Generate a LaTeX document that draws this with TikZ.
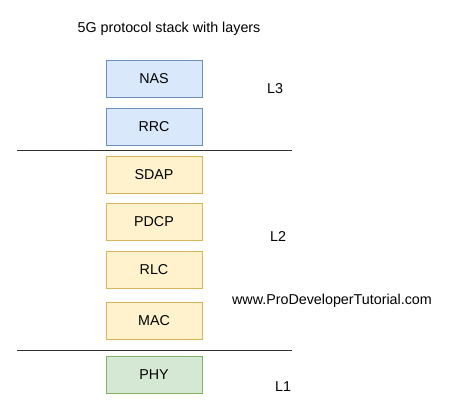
\documentclass[tikz,border=0pt]{standalone}
\usepackage{fontspec}
\setmainfont{Liberation Sans}
\definecolor{bfill}{HTML}{DAE8FC}\definecolor{bdraw}{HTML}{6C8EBF}
\definecolor{yfill}{HTML}{FFF2CC}\definecolor{ydraw}{HTML}{D6B656}
\definecolor{gfill}{HTML}{D5E8D4}\definecolor{gdraw}{HTML}{82B366}
\begin{document}
\begin{tikzpicture}[x=1pt,y=-1pt,
  layerbox/.style={draw, line width=1pt, minimum width=96pt, minimum height=37pt, inner sep=0pt, font=\fontsize{14.3}{16}\selectfont},
  blue/.style={layerbox, fill=bfill, draw=bdraw},
  yel/.style={layerbox, fill=yfill, draw=ydraw},
  grn/.style={layerbox, fill=gfill, draw=gdraw},
  lbl/.style={font=\fontsize{14.3}{16}\selectfont, inner sep=0pt},
  sep/.style={draw=black!80, line width=1pt}]
\useasboundingbox (0,0) rectangle (458,415);
\node[lbl] (title) at (169,29) {5G protocol stack with layers};
\node[blue] (nas) at (154,78.5) {NAS};
\node[blue] (rrc) at (154,126.5) {RRC};
\node[yel] (sdap) at (154,174.5) {SDAP};
\node[yel] (pdcp) at (154,222) {PDCP};
\node[yel] (rlc) at (154,270) {RLC};
\node[yel] (mac) at (154,321) {MAC};
\node[grn] (phy) at (154,375) {PHY};
\node[lbl] (l3) at (275,89) {L3};
\node[lbl] (l2) at (278,237) {L2};
\node[lbl] (l1) at (283,387) {L1};
\node[lbl] (www) at (332,301) {www.ProDeveloperTutorial.com};
\coordinate (a1) at (17,150.5); \coordinate (a2) at (292,150.5);
\coordinate (b1) at (17,350); \coordinate (b2) at (292,350);
\draw[sep] (a1) -- (a2);
\draw[sep] (b1) -- (b2);
\end{tikzpicture}
\end{document}
